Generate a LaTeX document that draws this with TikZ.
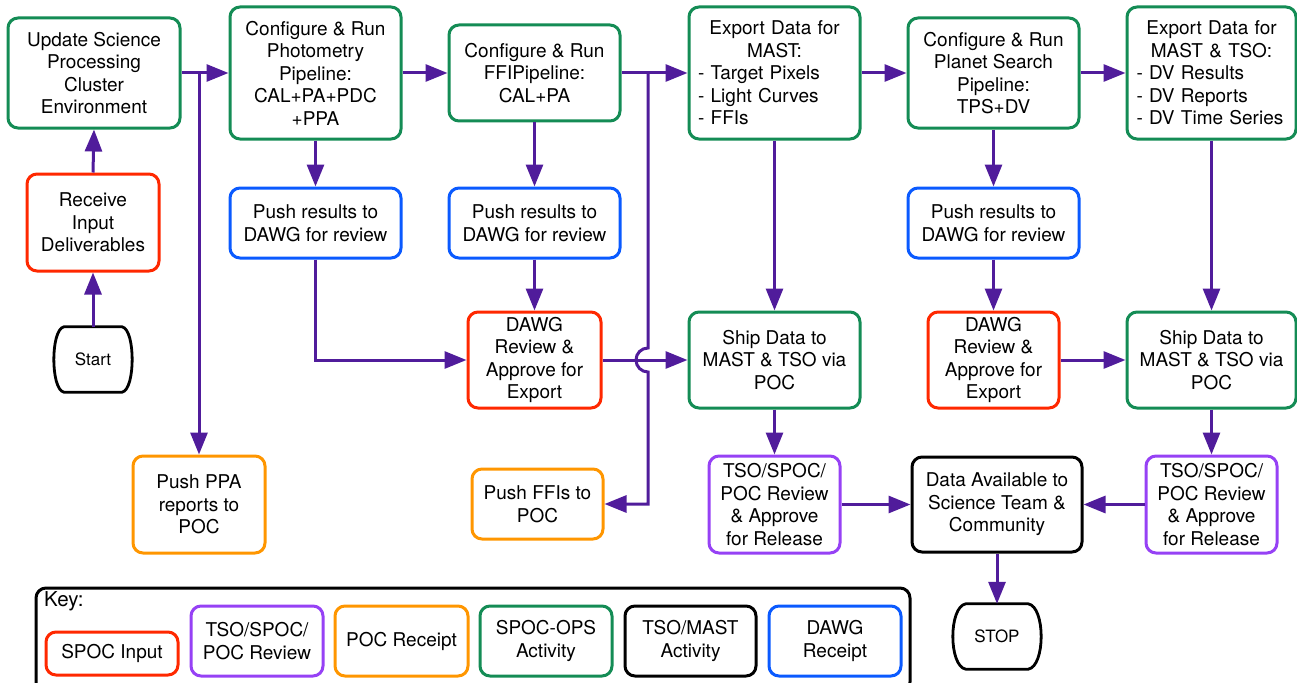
\documentclass[tikz,border=0pt]{standalone}
\usepackage{fontspec}
\setmainfont{TeX Gyre Heros}
\usetikzlibrary{arrows.meta,calc}
\setlength{\parindent}{0pt}
\definecolor{cgreen}{RGB}{20,140,85}
\definecolor{cred}{RGB}{255,40,0}
\definecolor{cblue}{RGB}{10,90,255}
\definecolor{corange}{RGB}{255,150,0}
\definecolor{cpurple}{RGB}{150,65,245}
\definecolor{carrow}{RGB}{80,28,155}
\newcommand\termpath[3]{%
  \draw[line width=2.8pt] ([xshift=#2pt]#1.north west) -- ([xshift=-#2pt]#1.north east)
   .. controls ([xshift=#3pt,yshift=-3pt]#1.north east) and ([xshift=#3pt,yshift=3pt]#1.south east) ..
   ([xshift=-#2pt]#1.south east) -- ([xshift=#2pt]#1.south west)
   .. controls ([xshift=-#3pt,yshift=3pt]#1.south west) and ([xshift=-#3pt,yshift=-3pt]#1.north west) .. cycle;}
\begin{document}
\begin{tikzpicture}[x=1pt,y=-1pt,
  box/.style={rounded corners=10pt, line width=3pt, inner sep=0pt, align=center,
    font=\fontsize{19}{22.5}\selectfont},
  gbox/.style={box, draw=cgreen},
  rbox/.style={box, draw=cred},
  bbox/.style={box, draw=cblue},
  obox/.style={box, draw=corange},
  pbox/.style={box, draw=cpurple},
  kbox/.style={box, draw=black},
  term/.style={inner sep=0pt, font=\fontsize{17}{20}\selectfont},
  arr/.style={line width=3pt, draw=carrow, -{Triangle[length=22pt,width=17pt]}},
]
\useasboundingbox (0,0) rectangle (1297,682);

% row 1
\node[gbox, minimum width=172, minimum height=110] (upd) at (94,73) {Update Science\\Processing\\Cluster\\Environment};
\node[gbox, minimum width=171, minimum height=132] (phot) at (315.5,73) {Configure \& Run\\Photometry\\Pipeline:\\CAL+PA+PDC\\+PPA};
\node[gbox, minimum width=171, minimum height=96] (ffi) at (534.5,73) {Configure \& Run\\FFIPipeline:\\CAL+PA};
\node[gbox, minimum width=171, minimum height=132, text width=153pt, align=left] (expA) at (774.5,73)
  {{\centering Export Data for\par MAST:\par}- Target Pixels\par - Light Curves\par - FFIs};
\node[gbox, minimum width=171, minimum height=110] (plan) at (993.5,73) {Configure \& Run\\Planet Search\\Pipeline:\\TPS+DV};
\node[gbox, minimum width=169, minimum height=132, text width=150pt, align=left] (expB) at (1211.5,73)
  {{\centering Export Data for\par MAST \& TSO:\par}- DV Results\par - DV Reports\par - DV Time Series};

% row 2
\node[rbox, minimum width=132, minimum height=97] (recv) at (93,222.5) {Receive\\Input\\Deliverables};
\node[bbox, minimum width=171, minimum height=70] (push1) at (315.5,223) {Push results to\\DAWG for review};
\node[bbox, minimum width=171, minimum height=70] (push2) at (534.5,223) {Push results to\\DAWG for review};
\node[bbox, minimum width=171, minimum height=70] (push3) at (993.5,223) {Push results to\\DAWG for review};
\node[term, minimum width=78, minimum height=65] (start) at (93,359.5) {Start};
\termpath{start}{10}{3.3}

% row 3
\node[rbox, minimum width=133, minimum height=96] (dawgA) at (534.5,360) {DAWG\\Review \&\\Approve for\\Export};
\node[gbox, minimum width=171, minimum height=96] (shipA) at (774.5,360) {Ship Data to\\MAST \& TSO via\\POC};
\node[rbox, minimum width=131, minimum height=96] (dawgB) at (993.5,360) {DAWG\\Review \&\\Approve for\\Export};
\node[gbox, minimum width=169, minimum height=96] (shipB) at (1211.5,360) {Ship Data to\\MAST \& TSO via\\POC};

% row 4
\node[obox, minimum width=132, minimum height=97] (ppa) at (199,504.5) {Push PPA\\reports to\\POC};
\node[obox, minimum width=131, minimum height=70] (ffipush) at (537.5,504) {Push FFIs to\\POC};
\node[pbox, minimum width=131, minimum height=97] (tsoA) at (774.5,504.5) {TSO/SPOC/\\POC Review\\\& Approve\\for Release};
\node[kbox, minimum width=170, minimum height=95] (avail) at (997,504.5) {Data Available to\\Science Team \&\\Community};
\node[pbox, minimum width=131, minimum height=97] (tsoB) at (1211.5,504.5) {TSO/SPOC/\\POC Review\\\& Approve\\for Release};
\node[term, minimum width=88, minimum height=65] (stop) at (997,636.5) {STOP};
\termpath{stop}{13}{4.3}

% key
\node[kbox, minimum width=874, minimum height=104] (keybox) at (473,640) {};
\node[anchor=west, inner sep=0pt, font=\fontsize{20.5}{24}\selectfont] (keylbl) at (44,601) {Key:};
\node[rbox, minimum width=132, minimum height=43] (k1) at (112,653.5) {SPOC Input};
\node[pbox, minimum width=132, minimum height=70] (k2) at (257,641) {TSO/SPOC/\\POC Review};
\node[obox, minimum width=133, minimum height=70] (k3) at (401.5,641) {POC Receipt};
\node[gbox, minimum width=132, minimum height=70] (k4) at (546,641) {SPOC-OPS\\Activity};
\node[kbox, minimum width=131, minimum height=70] (k5) at (690.5,641) {TSO/MAST\\Activity};
\node[bbox, minimum width=132, minimum height=70] (k6) at (835,641) {DAWG\\Receipt};

% connectors
\draw[arr] (start.north) -- (recv.south);
\draw[arr] (recv.north) -- (upd.south);
\draw[arr] (upd.east) -- (phot.west);
\coordinate (j1) at (ppa.north |- upd.east);
\draw[arr] (j1) -- (ppa.north);
\draw[arr] (phot.east) -- (ffi.west);
\draw[arr] (phot.south) -- (push1.north);
\draw[arr] (push1.south) |- (dawgA.west);
\draw[arr] (ffi.south) -- (push2.north);
\draw[arr] (push2.south) -- (dawgA.north);
\draw[arr] (ffi.east) -- (expA.west);
\coordinate (j2) at (648,73);
\coordinate (hop) at (j2 |- dawgA.east);
\draw[arr] (j2) -- ([yshift=12pt]hop) arc[start angle=90, end angle=270, radius=12pt] -- (j2 |- ffipush.east) -- (ffipush.east);
\draw[arr] (dawgA.east) -- (shipA.west);
\draw[arr] (expA.south) -- (shipA.north);
\draw[arr] (shipA.south) -- (tsoA.north);
\draw[arr] (tsoA.east) -- (avail.west);
\draw[arr] (expA.east) -- (plan.west);
\draw[arr] (plan.east) -- (expB.west);
\draw[arr] (plan.south) -- (push3.north);
\draw[arr] (push3.south) -- (dawgB.north);
\draw[arr] (dawgB.east) -- (shipB.west);
\draw[arr] (expB.south) -- (shipB.north);
\draw[arr] (shipB.south) -- (tsoB.north);
\draw[arr] (tsoB.west) -- (avail.east);
\draw[arr] (avail.south) -- (stop.north);
\end{tikzpicture}
\end{document}
